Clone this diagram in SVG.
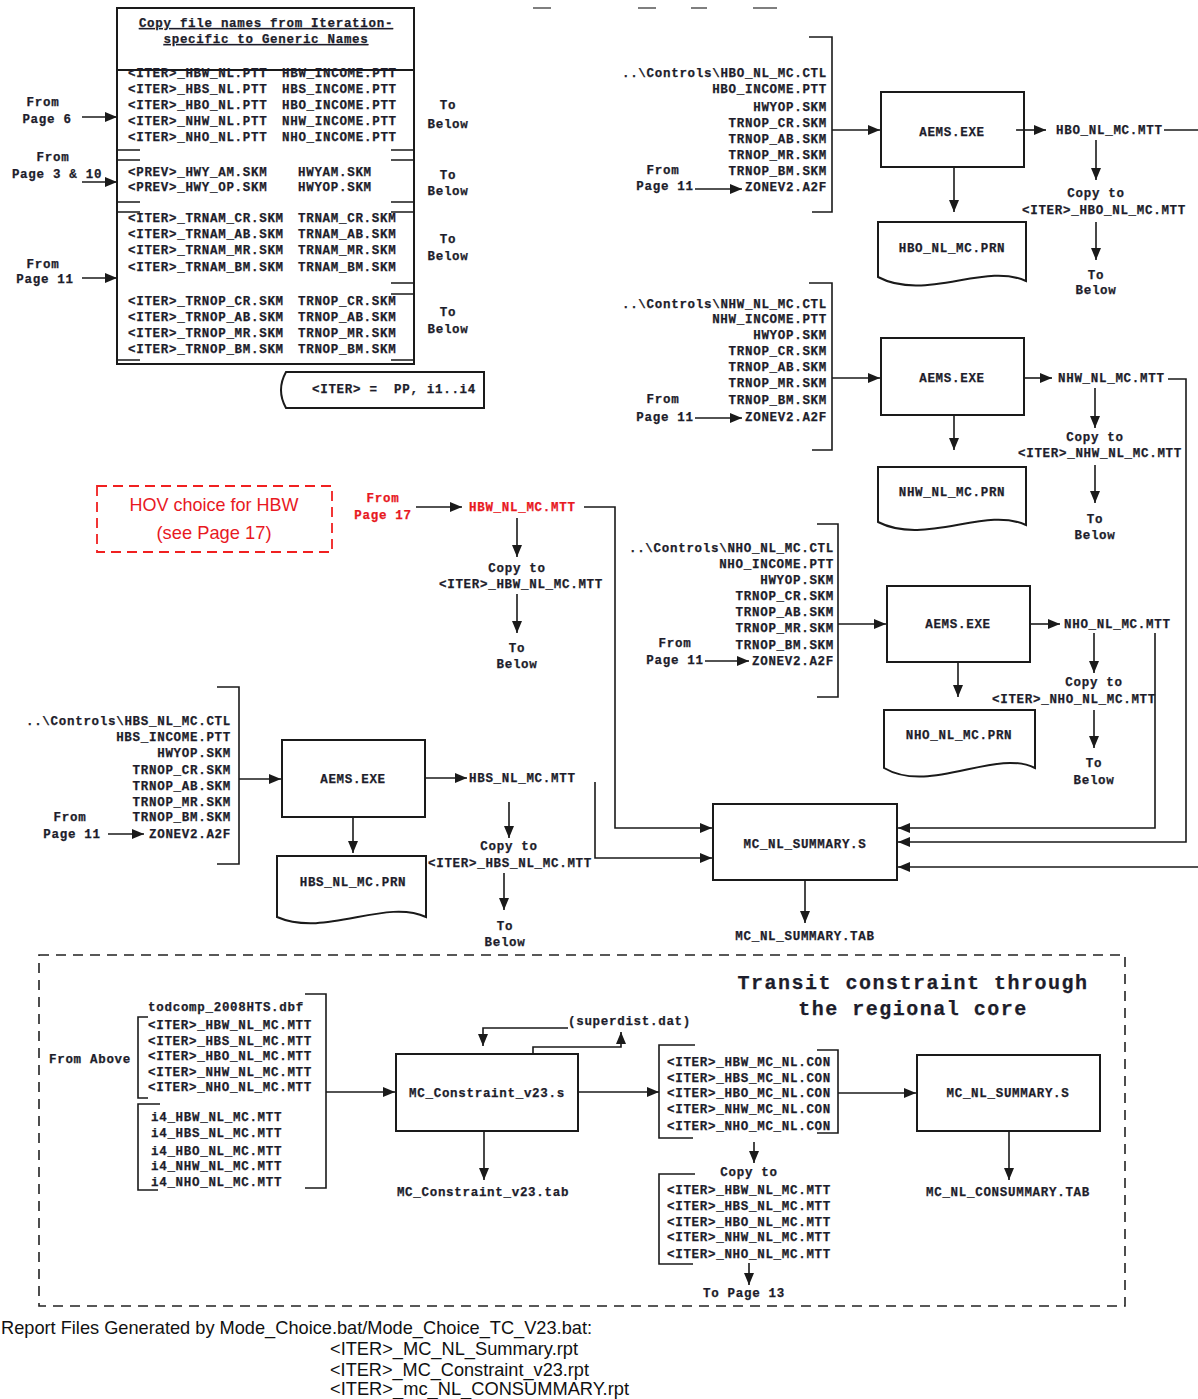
<svg xmlns="http://www.w3.org/2000/svg" width="1198" height="1399" viewBox="0 0 1198 1399">
<style>
text{font-family:"Liberation Mono","DejaVu Sans Mono",monospace;font-size:12.5px;font-weight:bold;letter-spacing:0.7px;fill:#1d1d2b;stroke:#1d1d2b;stroke-width:0.25}
.c{text-anchor:middle}
.e{text-anchor:end}
.red{fill:#e8191f;stroke:#e8191f}
.ln{fill:none;stroke:#1a1a1a;stroke-width:1.6}
.ar{fill:none;stroke:#1a1a1a;stroke-width:1.6;marker-end:url(#ah)}
.bx{fill:#fff;stroke:#1a1a1a;stroke-width:2}
.sans{font-family:"Liberation Sans",Arial,sans-serif;font-weight:normal;letter-spacing:0;stroke:none}
.title{font-size:20px;letter-spacing:1.5px}
.pre{white-space:pre}
.u{text-decoration:underline}
</style>
<defs>
<marker id="ah" viewBox="0 0 12 10" markerWidth="12" markerHeight="10" refX="12" refY="5" orient="auto" markerUnits="userSpaceOnUse"><path d="M0,0 L12,5 L0,10 z" fill="#1a1a1a"/></marker>
</defs>
<rect width="1198" height="1399" fill="#fff"/>
<g id="top-marks" stroke="#555" stroke-width="1.5"><line x1="533" y1="8" x2="551" y2="8"/><line x1="638" y1="8" x2="656" y2="8"/><line x1="691" y1="8" x2="707" y2="8"/><line x1="753" y1="8" x2="777" y2="8"/></g>

<g id="copy-table">
<rect x="117" y="8" width="297" height="356" class="ln" style="stroke-width:2"/>
<line x1="117" y1="70" x2="414" y2="70" class="ln" style="stroke-width:2"/>
<path class="ln" d="M117,150H140M391,150H414M117,160H140M391,160H414M117,202H140M391,202H414M117,212H140M391,212H414M391,283H414M391,294H414M117,360H140M391,360H414"/>
<text x="266" y="27" class="c u">Copy file names from Iteration-</text>
<text x="266" y="43" class="c u">specific to Generic Names</text>
<text x="128" y="77">&lt;ITER&gt;_HBW_NL.PTT</text><text x="282" y="77">HBW_INCOME.PTT</text>
<text x="128" y="93">&lt;ITER&gt;_HBS_NL.PTT</text><text x="282" y="93">HBS_INCOME.PTT</text>
<text x="128" y="109">&lt;ITER&gt;_HBO_NL.PTT</text><text x="282" y="109">HBO_INCOME.PTT</text>
<text x="128" y="125">&lt;ITER&gt;_NHW_NL.PTT</text><text x="282" y="125">NHW_INCOME.PTT</text>
<text x="128" y="141">&lt;ITER&gt;_NHO_NL.PTT</text><text x="282" y="141">NHO_INCOME.PTT</text>
<text x="128" y="176">&lt;PREV&gt;_HWY_AM.SKM</text><text x="298" y="176">HWYAM.SKM</text>
<text x="128" y="191">&lt;PREV&gt;_HWY_OP.SKM</text><text x="298" y="191">HWYOP.SKM</text>
<text x="128" y="222">&lt;ITER&gt;_TRNAM_CR.SKM</text><text x="298" y="222">TRNAM_CR.SKM</text>
<text x="128" y="238">&lt;ITER&gt;_TRNAM_AB.SKM</text><text x="298" y="238">TRNAM_AB.SKM</text>
<text x="128" y="254">&lt;ITER&gt;_TRNAM_MR.SKM</text><text x="298" y="254">TRNAM_MR.SKM</text>
<text x="128" y="271">&lt;ITER&gt;_TRNAM_BM.SKM</text><text x="298" y="271">TRNAM_BM.SKM</text>
<text x="128" y="305">&lt;ITER&gt;_TRNOP_CR.SKM</text><text x="298" y="305">TRNOP_CR.SKM</text>
<text x="128" y="321">&lt;ITER&gt;_TRNOP_AB.SKM</text><text x="298" y="321">TRNOP_AB.SKM</text>
<text x="128" y="337">&lt;ITER&gt;_TRNOP_MR.SKM</text><text x="298" y="337">TRNOP_MR.SKM</text>
<text x="128" y="353">&lt;ITER&gt;_TRNOP_BM.SKM</text><text x="298" y="353">TRNOP_BM.SKM</text>
</g>
<g id="table-labels">
<text x="43" y="106" class="c">From</text><text x="47" y="123" class="c">Page 6</text>
<text x="53" y="161" class="c">From</text><text x="57" y="178" class="c">Page 3 &amp; 10</text>
<text x="43" y="268" class="c">From</text><text x="45" y="283" class="c">Page 11</text>
<text x="448" y="109" class="c">To</text><text x="448" y="128" class="c">Below</text>
<text x="448" y="179" class="c">To</text><text x="448" y="195" class="c">Below</text>
<text x="448" y="243" class="c">To</text><text x="448" y="260" class="c">Below</text>
<text x="448" y="316" class="c">To</text><text x="448" y="333" class="c">Below</text>
</g>
<g id="iter-note">
<path class="ln" style="stroke-width:2" d="M286,372H484V408H286Q276,390 286,372Z"/>
<text x="312" y="393" class="pre">&lt;ITER&gt; =  PP, i1..i4</text>
</g>

<g id="hbo-inputs">
<path class="ln" d="M809,37H832V212H812"/>
<text x="827" y="77" class="e">..\Controls\HBO_NL_MC.CTL</text>
<text x="827" y="93" class="e">HBO_INCOME.PTT</text>
<text x="827" y="111" class="e">HWYOP.SKM</text>
<text x="827" y="127" class="e">TRNOP_CR.SKM</text>
<text x="827" y="143" class="e">TRNOP_AB.SKM</text>
<text x="827" y="159" class="e">TRNOP_MR.SKM</text>
<text x="827" y="175" class="e">TRNOP_BM.SKM</text>
<text x="827" y="191" class="e">ZONEV2.A2F</text>
<text x="663" y="174" class="c">From</text><text x="665" y="190" class="c">Page 11</text>
</g>
<g id="hbo-aems"><rect x="881" y="92" width="143" height="75" class="bx"/><text x="952" y="136" class="c">AEMS.EXE</text></g>
<g id="hbo-mtt"><text x="1056" y="134">HBO_NL_MC.MTT</text></g>
<g id="hbo-copy"><text x="1096" y="197" class="c">Copy to</text><text x="1104" y="214" class="c">&lt;ITER&gt;_HBO_NL_MC.MTT</text><text x="1096" y="279" class="c">To</text><text x="1096" y="294" class="c">Below</text></g>
<g id="hbo-prn"><path class="bx" d="M878,222H1026V281C985,262 925,302 878,277Z"/><text x="952" y="252" class="c">HBO_NL_MC.PRN</text></g>

<g id="nhw-inputs">
<path class="ln" d="M809,283H832V450H812"/>
<text x="827" y="308" class="e">..\Controls\NHW_NL_MC.CTL</text>
<text x="827" y="323" class="e">NHW_INCOME.PTT</text>
<text x="827" y="339" class="e">HWYOP.SKM</text>
<text x="827" y="355" class="e">TRNOP_CR.SKM</text>
<text x="827" y="371" class="e">TRNOP_AB.SKM</text>
<text x="827" y="387" class="e">TRNOP_MR.SKM</text>
<text x="827" y="404" class="e">TRNOP_BM.SKM</text>
<text x="827" y="421" class="e">ZONEV2.A2F</text>
<text x="663" y="403" class="c">From</text><text x="665" y="421" class="c">Page 11</text>
</g>
<g id="nhw-aems"><rect x="881" y="338" width="143" height="77" class="bx"/><text x="952" y="382" class="c">AEMS.EXE</text></g>
<g id="nhw-mtt"><text x="1058" y="382">NHW_NL_MC.MTT</text></g>
<g id="nhw-copy"><text x="1095" y="441" class="c">Copy to</text><text x="1100" y="457" class="c">&lt;ITER&gt;_NHW_NL_MC.MTT</text><text x="1095" y="523" class="c">To</text><text x="1095" y="539" class="c">Below</text></g>
<g id="nhw-prn"><path class="bx" d="M878,467H1026V525C985,506 925,546 878,522Z"/><text x="952" y="496" class="c">NHW_NL_MC.PRN</text></g>

<g id="nho-inputs">
<path class="ln" d="M817,524H838V697H817"/>
<text x="834" y="552" class="e">..\Controls\NHO_NL_MC.CTL</text>
<text x="834" y="568" class="e">NHO_INCOME.PTT</text>
<text x="834" y="584" class="e">HWYOP.SKM</text>
<text x="834" y="600" class="e">TRNOP_CR.SKM</text>
<text x="834" y="616" class="e">TRNOP_AB.SKM</text>
<text x="834" y="632" class="e">TRNOP_MR.SKM</text>
<text x="834" y="649" class="e">TRNOP_BM.SKM</text>
<text x="834" y="665" class="e">ZONEV2.A2F</text>
<text x="675" y="647" class="c">From</text><text x="675" y="664" class="c">Page 11</text>
</g>
<g id="nho-aems"><rect x="887" y="586" width="143" height="76" class="bx"/><text x="958" y="628" class="c">AEMS.EXE</text></g>
<g id="nho-mtt"><text x="1064" y="628">NHO_NL_MC.MTT</text></g>
<g id="nho-copy"><text x="1094" y="686" class="c">Copy to</text><text x="1074" y="703" class="c">&lt;ITER&gt;_NHO_NL_MC.MTT</text><text x="1094" y="767" class="c">To</text><text x="1094" y="784" class="c">Below</text></g>
<g id="nho-prn"><path class="bx" d="M884,710H1035V768C995,748 930,795 884,768Z"/><text x="959" y="739" class="c">NHO_NL_MC.PRN</text></g>

<g id="hov-note">
<rect x="97" y="486" width="235" height="66" fill="none" stroke="#f02020" stroke-width="1.8" stroke-dasharray="10,6"/>
<text x="214" y="511" class="c sans red" style="font-size:19px;stroke:none" textLength="169" lengthAdjust="spacingAndGlyphs">HOV choice for HBW</text>
<text x="214" y="539" class="c sans red" style="font-size:19px;stroke:none" textLength="115" lengthAdjust="spacingAndGlyphs">(see Page 17)</text>
</g>
<g id="hbw-from"><text x="383" y="502" class="c red">From</text><text x="383" y="519" class="c red">Page 17</text></g>
<g id="hbw-mtt"><text x="469" y="511" class="red">HBW_NL_MC.MTT</text></g>
<g id="hbw-copy"><text x="517" y="572" class="c">Copy to</text><text x="521" y="588" class="c">&lt;ITER&gt;_HBW_NL_MC.MTT</text><text x="517" y="652" class="c">To</text><text x="517" y="668" class="c">Below</text></g>

<g id="hbs-inputs">
<path class="ln" d="M217,687H239V864H217"/>
<text x="231" y="725" class="e">..\Controls\HBS_NL_MC.CTL</text>
<text x="231" y="741" class="e">HBS_INCOME.PTT</text>
<text x="231" y="757" class="e">HWYOP.SKM</text>
<text x="231" y="774" class="e">TRNOP_CR.SKM</text>
<text x="231" y="790" class="e">TRNOP_AB.SKM</text>
<text x="231" y="806" class="e">TRNOP_MR.SKM</text>
<text x="231" y="821" class="e">TRNOP_BM.SKM</text>
<text x="231" y="838" class="e">ZONEV2.A2F</text>
<text x="70" y="821" class="c">From</text><text x="72" y="838" class="c">Page 11</text>
</g>
<g id="hbs-aems"><rect x="282" y="740" width="143" height="77" class="bx"/><text x="353" y="783" class="c">AEMS.EXE</text></g>
<g id="hbs-mtt"><text x="469" y="782">HBS_NL_MC.MTT</text></g>
<g id="hbs-copy"><text x="509" y="850" class="c">Copy to</text><text x="510" y="867" class="c">&lt;ITER&gt;_HBS_NL_MC.MTT</text><text x="505" y="930" class="c">To</text><text x="505" y="946" class="c">Below</text></g>
<g id="hbs-prn"><path class="bx" d="M277,856H426V917C385,898 325,938 277,917Z"/><text x="353" y="886" class="c">HBS_NL_MC.PRN</text></g>

<g id="summary"><rect x="713" y="804" width="184" height="76" class="bx"/><text x="805" y="848" class="c">MC_NL_SUMMARY.S</text></g>
<g id="summary-tab"><text x="805" y="940" class="c">MC_NL_SUMMARY.TAB</text></g>

<g id="constraint-section">
<rect x="39" y="955" width="1086" height="351" fill="none" stroke="#222" stroke-width="1.6" stroke-dasharray="10,7"/>
<text x="913" y="989" class="c title">Transit constraint through</text>
<text x="913" y="1015" class="c title">the regional core</text>
</g>
<g id="constraint-inputs">
<text x="226" y="1011" class="c">todcomp_2008HTS.dbf</text>
<path class="ln" d="M305,994H326V1188H305"/>
<path class="ln" d="M148,1017H138V1098H148"/>
<text x="148" y="1029">&lt;ITER&gt;_HBW_NL_MC.MTT</text>
<text x="148" y="1045">&lt;ITER&gt;_HBS_NL_MC.MTT</text>
<text x="148" y="1060">&lt;ITER&gt;_HBO_NL_MC.MTT</text>
<text x="148" y="1076">&lt;ITER&gt;_NHW_NL_MC.MTT</text>
<text x="148" y="1091">&lt;ITER&gt;_NHO_NL_MC.MTT</text>
<path class="ln" d="M160,1104H138V1190H158"/>
<text x="151" y="1121">i4_HBW_NL_MC.MTT</text>
<text x="151" y="1137">i4_HBS_NL_MC.MTT</text>
<text x="151" y="1155">i4_HBO_NL_MC.MTT</text>
<text x="151" y="1170">i4_NHW_NL_MC.MTT</text>
<text x="151" y="1186">i4_NHO_NL_MC.MTT</text>
<text x="90" y="1063" class="c">From Above</text>
</g>
<g id="constraint"><rect x="396" y="1054" width="182" height="77" class="bx"/><text x="487" y="1097" class="c">MC_Constraint_v23.s</text></g>
<g id="superdist"><text x="568" y="1025">(superdist.dat)</text></g>
<g id="constraint-tab"><text x="483" y="1196" class="c">MC_Constraint_v23.tab</text></g>
<g id="con-files">
<path class="ln" d="M695,1045H659V1138H693"/>
<path class="ln" d="M817,1050H838V1133H817"/>
<text x="667" y="1066">&lt;ITER&gt;_HBW_MC_NL.CON</text>
<text x="667" y="1082">&lt;ITER&gt;_HBS_MC_NL.CON</text>
<text x="667" y="1097">&lt;ITER&gt;_HBO_MC_NL.CON</text>
<text x="667" y="1113">&lt;ITER&gt;_NHW_MC_NL.CON</text>
<text x="667" y="1130">&lt;ITER&gt;_NHO_MC_NL.CON</text>
</g>
<g id="copy-mtt">
<text x="749" y="1176" class="c">Copy to</text>
<path class="ln" d="M695,1174H659V1264H693"/>
<text x="667" y="1194">&lt;ITER&gt;_HBW_NL_MC.MTT</text>
<text x="667" y="1210">&lt;ITER&gt;_HBS_NL_MC.MTT</text>
<text x="667" y="1226">&lt;ITER&gt;_HBO_NL_MC.MTT</text>
<text x="667" y="1241">&lt;ITER&gt;_NHW_NL_MC.MTT</text>
<text x="667" y="1258">&lt;ITER&gt;_NHO_NL_MC.MTT</text>
<text x="744" y="1297" class="c">To Page 13</text>
</g>
<g id="consummary"><rect x="917" y="1055" width="183" height="76" class="bx"/><text x="1008" y="1097" class="c">MC_NL_SUMMARY.S</text></g>
<g id="consummary-tab"><text x="1008" y="1196" class="c">MC_NL_CONSUMMARY.TAB</text></g>

<g id="report-files">
<text x="1" y="1334" class="sans" style="font-size:19px;fill:#111" textLength="591" lengthAdjust="spacingAndGlyphs">Report Files Generated by Mode_Choice.bat/Mode_Choice_TC_V23.bat:</text>
<text x="330" y="1355" class="sans" style="font-size:19px;fill:#111" textLength="248" lengthAdjust="spacingAndGlyphs">&lt;ITER&gt;_MC_NL_Summary.rpt</text>
<text x="330" y="1376" class="sans" style="font-size:19px;fill:#111" textLength="259" lengthAdjust="spacingAndGlyphs">&lt;ITER&gt;_MC_Constraint_v23.rpt</text>
<text x="330" y="1395" class="sans" style="font-size:19px;fill:#111" textLength="299" lengthAdjust="spacingAndGlyphs">&lt;ITER&gt;_mc_NL_CONSUMMARY.rpt</text>
</g>

<g id="connectors">
<path class="ar" d="M82,117H117"/>
<path class="ar" d="M82,182H117"/>
<path class="ar" d="M82,278H117"/>
<path class="ar" d="M695,189H742"/>
<path class="ar" d="M832,130H880"/>
<path class="ar" d="M1016,130H1046"/>
<path class="ln" d="M1164,130H1198"/>
<path class="ar" d="M1096,140V180"/>
<path class="ar" d="M1096,222V260"/>
<path class="ar" d="M954,167V212"/>
<path class="ar" d="M695,418H742"/>
<path class="ar" d="M832,378H880"/>
<path class="ar" d="M1024,378H1052"/>
<path class="ar" d="M1168,379H1186V842H898"/>
<path class="ar" d="M1095,388V428"/>
<path class="ar" d="M1095,465V503"/>
<path class="ar" d="M954,415V450"/>
<path class="ar" d="M705,661H749"/>
<path class="ar" d="M838,624H886"/>
<path class="ar" d="M1030,624H1060"/>
<path class="ar" d="M1155,633V828H898"/>
<path class="ar" d="M1094,633V673"/>
<path class="ar" d="M1094,710V748"/>
<path class="ar" d="M958,662V697"/>
<path class="ar" d="M416,507H462"/>
<path class="ar" d="M584,507H615V828H712"/>
<path class="ar" d="M517,518V557"/>
<path class="ar" d="M517,594V633"/>
<path class="ar" d="M108,834H144"/>
<path class="ar" d="M239,779H281"/>
<path class="ar" d="M425,778H467"/>
<path class="ar" d="M595,782V858H712"/>
<path class="ar" d="M509,802V838"/>
<path class="ar" d="M504,873V910"/>
<path class="ar" d="M353,817V853"/>
<path class="ar" d="M1198,867H898"/>
<path class="ar" d="M805,880V923"/>
<path class="ar" d="M326,1092H395"/>
<path class="ar" d="M533,1054V1047H621V1032"/>
<path class="ar" d="M568,1028H483V1046"/>
<path class="ar" d="M484,1131V1180"/>
<path class="ar" d="M578,1092H659"/>
<path class="ar" d="M838,1093H916"/>
<path class="ar" d="M1009,1131V1180"/>
<path class="ar" d="M754,1142V1163"/>
<path class="ar" d="M749,1263V1285"/>
</g>
</svg>
